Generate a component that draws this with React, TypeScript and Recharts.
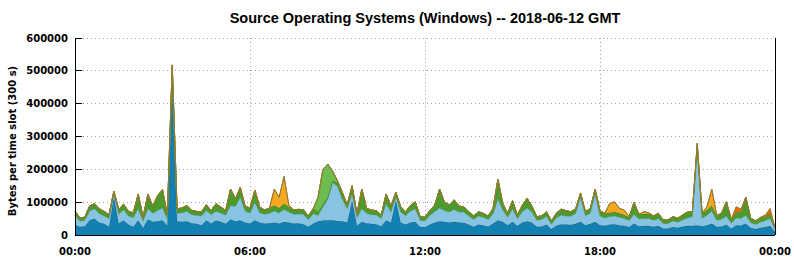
import React from 'react';
import { AreaChart, Area, XAxis, YAxis, CartesianGrid } from 'recharts';

// 10-minute slots, 00:00 .. 24:00 (values in thousands of bytes per 300 s slot)
const darkBlue = [
  32,25,27,45,50,38,34,25,117,35,
  45,32,25,45,22,48,40,42,45,28,
  470,42,40,42,36,34,30,45,35,44,
  40,34,48,42,45,38,35,45,38,35,
  36,38,35,40,38,35,36,33,25,35,
  42,44,45,45,43,42,38,105,28,40,
  36,34,33,27,45,38,105,38,32,38,
  40,25,24,32,38,42,40,38,40,38,
  37,32,25,32,30,26,35,45,40,30,
  40,28,38,42,38,25,26,32,18,28,
  33,32,31,34,40,30,34,40,30,28,
  32,33,30,28,24,35,27,28,28,25,
  28,20,20,24,22,26,28,28,30,27,
  30,35,25,26,32,20,30,29,35,22,
  18,22,24,28,10,
];
const lightBlue = [
  28,17,17,28,30,27,24,25,8,28,
  32,26,28,35,20,32,26,33,38,20,
  22,24,28,30,26,26,28,30,27,28,
  27,26,42,45,70,35,32,55,30,28,
  30,35,32,38,32,28,28,30,22,30,
  18,41,65,115,105,68,42,20,25,40,
  30,28,28,23,50,32,12,32,27,35,
  40,20,19,28,33,40,35,32,38,32,
  33,26,22,26,24,21,30,65,36,24,
  40,22,32,40,32,20,21,25,15,24,
  28,26,26,32,75,29,32,85,28,24,
  24,25,24,22,20,28,22,22,22,20,
  22,15,15,19,17,20,24,28,235,24,
  30,38,20,22,26,16,22,22,25,16,
  14,17,20,22,8,
];
const darkGreen = [
  13,10,10,15,16,15,14,12,9,15,
  17,14,15,45,13,44,22,45,55,14,
  26,14,14,18,13,12,12,17,13,23,
  18,15,50,23,30,15,15,37,17,13,
  16,17,15,18,15,14,14,14,11,15,
  10,8,6,5,10,14,12,25,12,60,
  15,14,13,11,30,18,13,16,12,17,
  21,11,11,15,20,58,25,22,29,18,
  16,13,11,13,12,11,16,60,20,12,
  25,11,20,30,18,11,11,14,10,14,
  18,16,14,14,13,12,15,15,16,14,
  12,13,12,12,10,36,14,14,15,13,
  16,11,11,13,12,15,18,15,10,15,
  16,17,13,18,43,12,18,20,55,13,
  11,13,14,16,5,
];
const lightGreen = [
  0,0,0,0,0,0,0,0,0,0,
  0,0,0,0,0,0,0,0,0,0,
  0,0,0,0,0,0,0,0,0,0,
  0,0,0,0,0,0,0,0,0,0,
  0,0,0,0,0,0,0,0,0,0,
  45,107,100,30,7,6,0,0,0,0,
  0,0,0,0,0,0,0,0,0,0,
  0,0,0,0,0,0,0,0,0,0,
  0,0,0,0,0,0,0,0,0,0,
  0,0,0,0,0,0,0,0,0,0,
  0,0,0,0,0,0,0,0,0,0,
  0,0,0,0,0,0,0,0,0,0,
  0,0,0,0,0,0,0,0,0,0,
  0,0,0,0,0,0,0,0,0,0,
  0,0,0,0,0,
];
const orange = [
  0,0,0,0,0,0,0,0,0,0,
  0,0,0,0,0,0,0,0,0,0,
  0,0,0,0,0,0,0,0,0,0,
  0,0,0,0,0,0,0,0,0,0,
  0,50,33,82,5,0,0,0,0,0,
  0,0,0,0,0,0,0,0,0,0,
  0,0,0,0,0,0,0,0,0,0,
  0,0,0,0,0,0,0,0,0,0,
  0,0,0,0,0,0,0,0,0,0,
  0,0,0,0,0,0,0,0,0,0,
  0,0,0,0,0,0,0,0,0,0,
  28,30,15,14,2,0,0,7,3,0,
  0,0,0,0,0,0,0,0,5,0,
  10,50,2,0,0,0,0,0,0,0,
  0,0,0,0,0,
];
const darkOrange = [
  0,0,0,0,0,0,0,0,0,0,
  0,0,0,0,0,0,0,0,0,0,
  0,0,0,0,0,0,0,0,0,0,
  0,0,0,0,0,0,0,0,0,0,
  0,0,0,0,0,0,0,0,0,0,
  0,0,0,0,0,0,0,0,0,0,
  0,0,0,0,0,0,0,0,0,0,
  0,0,0,0,0,0,0,0,0,0,
  0,0,0,0,0,0,0,0,0,0,
  0,0,0,0,0,0,0,0,0,0,
  0,0,0,0,0,0,0,0,0,0,
  0,0,0,0,0,0,0,0,0,0,
  0,0,0,0,0,0,0,0,0,0,
  0,0,0,0,0,0,16,8,0,0,
  0,2,3,15,0,
];

const xTicks = [0, 36, 72, 108, 144];
const xTickLabels = ['00:00', '06:00', '12:00', '18:00', '00:00'];
const yTicks = [0, 100000, 200000, 300000, 400000, 500000, 600000];

const title = 'Source Operating Systems (Windows) -- 2018-06-12 GMT';
const yLabel = 'Bytes per time slot (300 s)';

const data = darkBlue.map((_, i) => ({
  slot: i,
  db: darkBlue[i] * 1000,
  lb: lightBlue[i] * 1000,
  dg: darkGreen[i] * 1000,
  lg: lightGreen[i] * 1000,
  or: orange[i] * 1000,
  dor: darkOrange[i] * 1000,
}));

const series = [
  { key: 'db', fill: '#1280b0', stroke: '#1d6688' },
  { key: 'lb', fill: '#88c4e2', stroke: '#6c9fb8' },
  { key: 'dg', fill: '#4b9b2c', stroke: '#3d7c24' },
  { key: 'lg', fill: '#6cbc50', stroke: '#4f8f36' },
  { key: 'or', fill: '#f8a820', stroke: '#b88222' },
  { key: 'dor', fill: '#e8680c', stroke: '#8f7a30' },
];

const tickFont: React.CSSProperties = {
  fontFamily: '"DejaVu Sans", Verdana, sans-serif',
  fontWeight: 'bold',
  fontSize: 10,
};

const LeftTick = (props: any) => {
  const { x, y, payload } = props;
  return (
    <g>
      <line x1={x + 7} x2={x + 14} y1={y} y2={y} stroke="#000" shapeRendering="crispEdges" />
      <text x={x} y={y} dy="0.36em" textAnchor="end" fill="#000" style={tickFont}>
        {String(payload.value)}
      </text>
    </g>
  );
};

const RightTick = (props: any) => {
  const { x, y } = props;
  return <line x1={x} x2={x - 7} y1={y} y2={y} stroke="#000" shapeRendering="crispEdges" />;
};

const BottomTick = (props: any) => {
  const { x, y, payload } = props;
  const idx = xTicks.indexOf(payload.value);
  return (
    <text x={x} y={y} dy={19.5} textAnchor="middle" fill="#000" style={tickFont}>
      {xTickLabels[idx]}
    </text>
  );
};

const TopTick = (props: any) => {
  const { x, y } = props;
  return <line x1={x} x2={x} y1={y} y2={y + 7} stroke="#000" shapeRendering="crispEdges" />;
};

const axisLineStyle = { stroke: '#000', strokeWidth: 1, shapeRendering: 'crispEdges' } as any;

export default function App() {
  return (
    <div style={{ position: 'absolute', left: 0, top: 0, width: 794, height: 260, background: '#fff' }}>
      <AreaChart
        width={794}
        height={260}
        data={data}
        margin={{ top: 38, right: 0, bottom: 0, left: 0 }}
      >
        <CartesianGrid
          stroke="#a0a0a0"
          strokeDasharray="1 3"
          shapeRendering="crispEdges"
        />
        <XAxis
          dataKey="slot"
          type="number"
          domain={[0, 144]}
          ticks={xTicks}
          interval={0}
          height={25}
          tickSize={0}
          tickMargin={0}
          tickLine={false}
          axisLine={axisLineStyle}
          tick={<BottomTick />}
        />
        <XAxis
          xAxisId="top"
          dataKey="slot"
          type="number"
          orientation="top"
          domain={[0, 144]}
          ticks={xTicks}
          interval={0}
          height={0}
          tickSize={0}
          tickMargin={0}
          tickLine={false}
          axisLine={axisLineStyle}
          tick={<TopTick />}
        />
        <YAxis
          type="number"
          domain={[0, 600000]}
          ticks={yTicks}
          interval={0}
          width={75}
          tickSize={0}
          tickMargin={7}
          tickLine={false}
          axisLine={axisLineStyle}
          tick={<LeftTick />}
        />
        <YAxis
          yAxisId="right"
          orientation="right"
          type="number"
          domain={[0, 600000]}
          ticks={yTicks}
          interval={0}
          width={19}
          tickSize={0}
          tickMargin={0}
          tickLine={false}
          axisLine={axisLineStyle}
          tick={<RightTick />}
        />
        {series.map((s) => (
          <Area
            key={s.key}
            dataKey={s.key}
            stackId="1"
            type="linear"
            fill={s.fill}
            fillOpacity={1}
            stroke={s.stroke}
            strokeWidth={1}
            dot={false}
            activeDot={false}
            isAnimationActive={false}
          />
        ))}
      </AreaChart>
      <svg
        width={794}
        height={260}
        style={{ position: 'absolute', left: 0, top: 0, pointerEvents: 'none' }}
      >
        <text
          x={425}
          y={23}
          textAnchor="middle"
          fill="#000"
          style={{
            fontFamily: '"Liberation Sans", Arial, Helvetica, sans-serif',
            fontWeight: 'bold',
            fontSize: 14.5,
          }}
        >
          {title}
        </text>
        <text
          x={16}
          y={141}
          transform="rotate(-90 16 141)"
          textAnchor="middle"
          fill="#000"
          style={tickFont}
        >
          {yLabel}
        </text>
      </svg>
    </div>
  );
}
